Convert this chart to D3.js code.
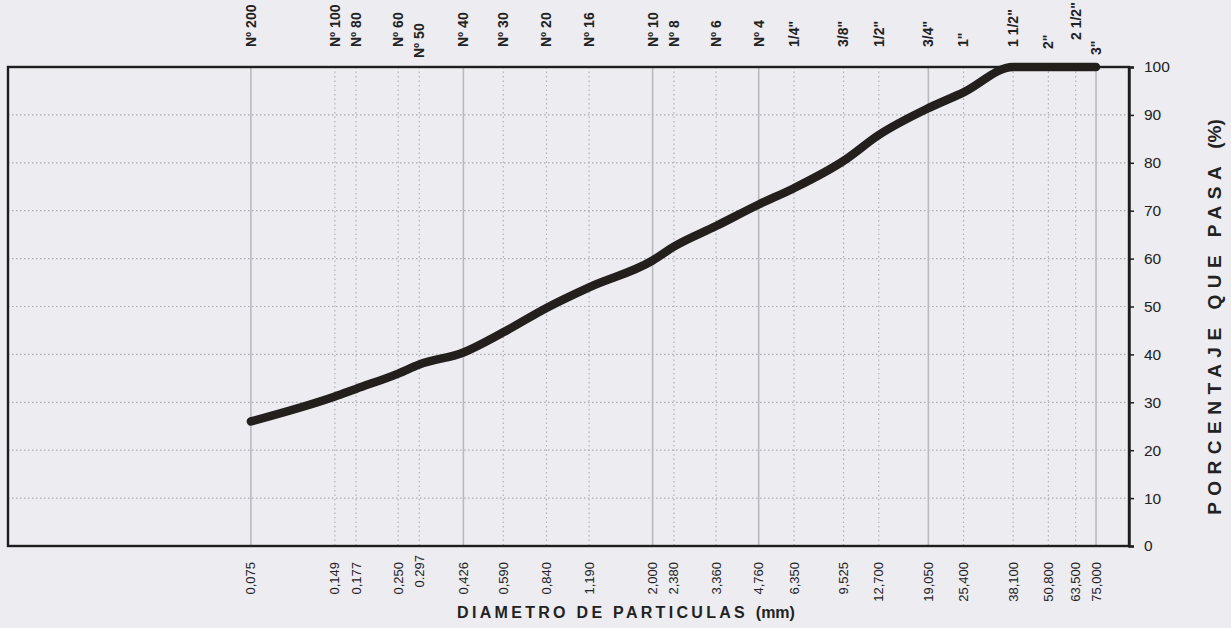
<!DOCTYPE html>
<html>
<head>
<meta charset="utf-8">
<script src="https://cdn.jsdelivr.net/npm/d3@7"></script>
<style>
  html, body { margin: 0; padding: 0; background: #ececf1; }
  svg { display: block; }
  text { font-family: "Liberation Sans", Arial, sans-serif; fill: #222; }
</style>
</head>
<body>
<svg id="chart" width="1231" height="628"></svg>
<script>
// Sieve names (top), opening sizes in mm (bottom) and percentage passing
const sieveNames = ["Nº 200", "Nº 100", "Nº 80", "Nº 60", "Nº 50", "Nº 40", "Nº 30", "Nº 20", "Nº 16",
  "Nº 10", "Nº 8", "Nº 6", "Nº 4", "1/4\"", "3/8\"", "1/2\"", "3/4\"", "1\"", "1 1/2\"", "2\"", "2 1/2\"", "3\""];
const sieveSizes = [0.075, 0.149, 0.177, 0.250, 0.297, 0.426, 0.590, 0.840, 1.190, 2.000, 2.380, 3.360,
  4.760, 6.350, 9.525, 12.700, 19.050, 25.400, 38.100, 50.800, 63.500, 75.000];
const sizeLabels = ["0,075", "0,149", "0,177", "0,250", "0.297", "0,426", "0,590", "0,840", "1,190", "2,000",
  "2,380", "3,360", "4,760", "6,350", "9,525", "12,700", "19,050", "25,400", "38,100", "50,800", "63,500", "75,000"];
const percentPassing = [26, 31.2, 32.8, 36, 37.9, 40.4, 44.6, 49.7, 54, 59.6, 62.5, 66.8,
  71.3, 74.7, 80.4, 85.8, 91.4, 94.7, 100, 100, 100, 100];
// Sieves drawn with a solid grid line
const mainSieves = [0.075, 0.426, 2.000, 4.760, 19.050, 75.000];
const yTicks = [0, 10, 20, 30, 40, 50, 60, 70, 80, 90, 100];

const svg = d3.select("#chart");
const plotL = 8, plotR = 1129, plotT = 67, plotB = 546;

const x = d3.scaleLog().domain([0.0103, 98.2]).range([plotL, plotR]);
const y = d3.scaleLinear().domain([0, 100]).range([plotB, plotT]);

// horizontal dotted grid
svg.append("g").selectAll("line").data(yTicks.filter(d => d > 0 && d < 100)).join("line")
  .attr("x1", plotL).attr("x2", plotR)
  .attr("y1", d => y(d)).attr("y2", d => y(d))
  .attr("stroke", "#a9a9b0").attr("stroke-width", 1.2).attr("stroke-dasharray", "1.5,2.5");

// vertical grid: solid for main sieves, dotted for the rest
svg.append("g").selectAll("line").data(sieveSizes).join("line")
  .attr("x1", d => x(d)).attr("x2", d => x(d))
  .attr("y1", plotT).attr("y2", plotB)
  .attr("stroke", d => mainSieves.includes(d) ? "#b9b9bf" : "#b0b0b8")
  .attr("stroke-width", d => mainSieves.includes(d) ? 1.6 : 1.2)
  .attr("stroke-dasharray", d => mainSieves.includes(d) ? null : "1.5,3");

// plot frame
svg.append("rect")
  .attr("x", plotL).attr("y", plotT).attr("width", plotR - plotL).attr("height", plotB - plotT)
  .attr("fill", "none").attr("stroke", "#1e1e1e").attr("stroke-width", 2.4);

// right axis
const yAxis = d3.axisRight(y).tickValues(yTicks).tickSize(5).tickPadding(10);
const ya = svg.append("g").attr("transform", `translate(${plotR},0)`).call(yAxis);
ya.select(".domain").attr("stroke", "#1e1e1e").attr("stroke-width", 2.4);
ya.selectAll(".tick line").attr("stroke", "#1e1e1e").attr("stroke-width", 1.5);
ya.selectAll(".tick text").attr("font-size", 15.5).attr("fill", "#222")
  .attr("font-family", "Liberation Sans, Arial, sans-serif");

// grading curve
const pts = sieveSizes.map((s, i) => [s, percentPassing[i]]);
svg.append("path").datum(pts)
  .attr("fill", "none").attr("stroke", "#231f1c").attr("stroke-width", 8.5)
  .attr("stroke-linecap", "round").attr("stroke-linejoin", "round")
  .attr("d", d3.line().x(d => x(d[0])).y(d => y(d[1])).curve(d3.curveMonotoneX));

// sieve names along the top
const topShift = { "Nº 50": 11, "2 1/2\"": -7, "3\"": 8, "2\"": 2 };
svg.append("g").selectAll("text").data(sieveNames).join("text")
  .attr("transform", (d, i) => `translate(${x(sieveSizes[i])},${47 + (topShift[d] || 0)}) rotate(-90)`)
  .attr("dy", "0.35em").attr("text-anchor", "start")
  .attr("font-size", 14).attr("font-weight", "bold")
  .text(d => d);

// opening sizes along the bottom
const bottomShift = { "0.297": -7 };
svg.append("g").selectAll("text").data(sizeLabels).join("text")
  .attr("transform", (d, i) => `translate(${x(sieveSizes[i])},${562 + (bottomShift[d] || 0)}) rotate(-90)`)
  .attr("dy", "0.35em").attr("text-anchor", "end")
  .attr("font-size", 13)
  .text(d => d);

// axis titles
const xt = svg.append("text").attr("x", 626).attr("y", 618).attr("text-anchor", "middle")
  .attr("font-size", 16).attr("font-weight", "bold");
xt.append("tspan").attr("letter-spacing", "3.3px").text("DIAMETRO DE PARTICULAS ");
xt.append("tspan").text("(mm)");

const yt = svg.append("text").attr("transform", "translate(1214,317) rotate(-90)")
  .attr("dy", "0.35em").attr("text-anchor", "middle").attr("font-size", 19).attr("font-weight", "bold");
yt.append("tspan").attr("letter-spacing", "6.5px").text("PORCENTAJE QUE PASA ");
yt.append("tspan").text("(%)");
</script>
</body>
</html>
